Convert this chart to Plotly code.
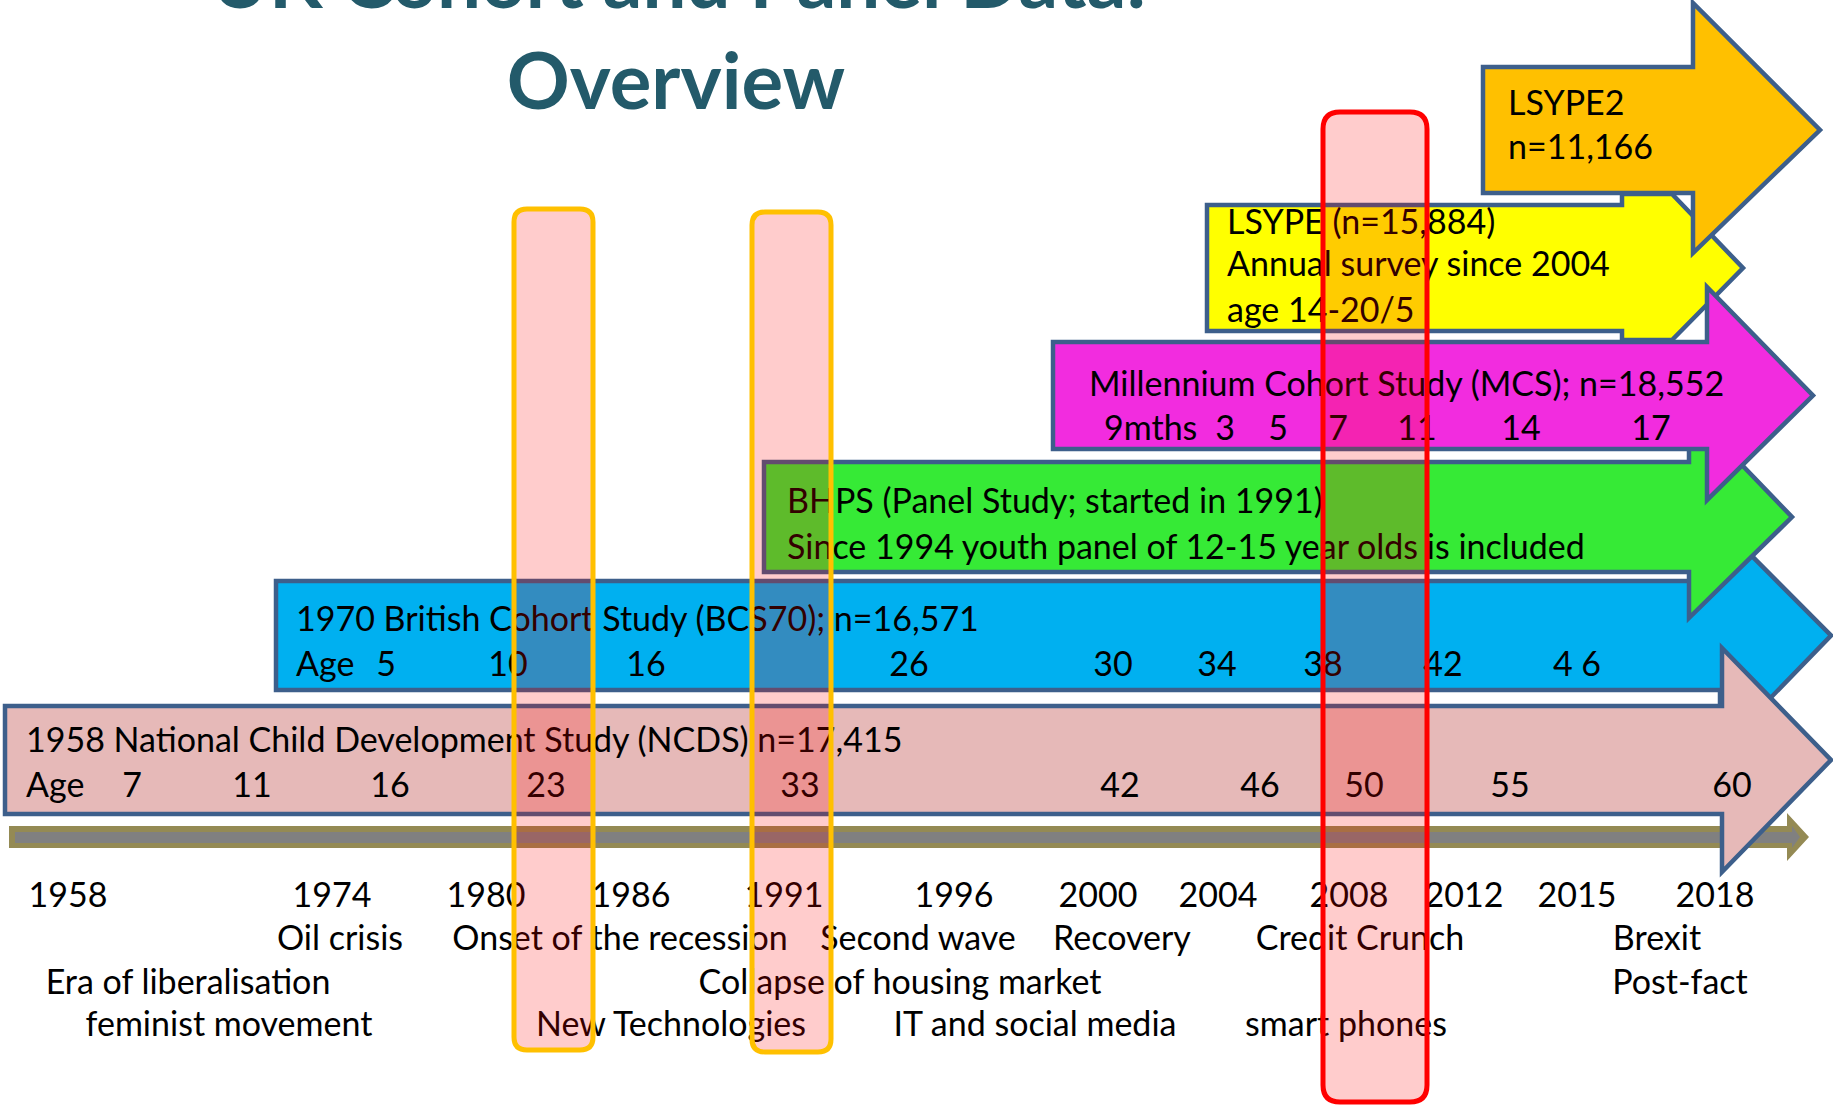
import plotly.graph_objects as go

# ---------------- data ----------------
title_line1 = "UK Cohort and Panel Data:"
title_line2 = "Overview"

ncds_title = "1958 National Child Development Study (NCDS) n=17,415"
ncds_ages = ["7", "11", "16", "23", "33", "42", "46", "50", "55", "60"]

bcs_title = "1970 British Cohort Study (BCS70); n=16,571"
bcs_ages = ["5", "10", "16", "26", "30", "34", "38", "42", "4 6"]

bhps_lines = ["BHPS (Panel Study; started in 1991)",
              "Since 1994 youth panel of 12-15 year olds is included"]

mcs_title = "Millennium Cohort Study (MCS); n=18,552"
mcs_ages = ["9mths", "3", "5", "7", "11", "14", "17"]

lsype_lines = ["LSYPE (n=15,884)", "Annual survey since 2004", "age 14-20/5"]
lsype2_lines = ["LSYPE2", "n=11,166"]

years = ["1958", "1974", "1980", "1986", "1991", "1996", "2000", "2004",
         "2008", "2012", "2015", "2018"]

events_row1 = ["Oil crisis", "Onset of the recession", "Second wave", "Recovery",
               "Credit Crunch", "Brexit"]
events_row2 = ["Era of liberalisation", "Collapse of housing market", "Post-fact"]
events_row3 = ["feminist movement", "New Technologies", "IT and social media",
               "smart phones"]

# ---------------- layout (pixel positions, sizes, styles) ----------------
W, H = 1833, 1106
FONT = "Lato, Open Sans, sans-serif"
FS = 34
BORDER = "#3D5F8B"
TITLE_COLOR = "#235A6A"
DY = 4  # vertical text nudge

ncds_age_x = [132, 252, 390, 546, 800, 1120, 1260, 1364, 1510, 1732]
bcs_age_x = [386, 508, 646, 909, 1113, 1217, 1323, 1443, 1577]
mcs_age_x = [1151, 1225, 1278, 1338, 1417, 1521, 1651]
year_x = [68, 332, 486, 631, 784, 954, 1098, 1218, 1349, 1464, 1577, 1715]
row1_x = [340, 620, 918, 1122, 1360, 1657]
row2_x = [188, 900, 1680]
row3_x = [229, 671, 1035, 1346]

# arrows: (left, top, bottom, head_x, head_top, head_bottom, tip_x, flat, fill)
arrows = [
    (276, 581, 690, 1720, 524, 750, 1831, 0, "#00B0F0"),   # BCS70
    (5, 706, 814, 1722, 648, 872, 1831, 0, "#E6B9B8"),     # NCDS
    (764, 462, 572, 1689, 410, 618, 1792, 0, "#36EA36"),   # BHPS
    (1207, 205, 331, 1622, 194, 340, 1743, 50, "#FFFF00"), # LSYPE
    (1053, 342, 449, 1707, 287, 500, 1813, 0, "#F22CDF"),  # MCS
    (1483, 67, 193, 1693, 3, 253, 1820, 0, "#FFC000"),     # LSYPE2
]

# highlight boxes: (x0, y0, x1, y1, radius, line colour)
highlights = [
    (514, 209, 593, 1050, 13, "#FFC000"),
    (752, 212, 831, 1052, 13, "#FFC000"),
    (1323, 112, 1427, 1102, 17, "#FF0000"),
]


def arrow_path(L, T, B, hx, hT, hB, tip, flat):
    cy = (T + B) / 2
    return (f"M{L},{T} L{hx},{T} L{hx},{hT} L{hx + flat},{hT} L{tip},{cy} "
            f"L{hx + flat},{hB} L{hx},{hB} L{hx},{B} L{L},{B} Z")


def rrect(x0, y0, x1, y1, r):
    return (f"M{x0 + r},{y0} L{x1 - r},{y0} Q{x1},{y0} {x1},{y0 + r} "
            f"L{x1},{y1 - r} Q{x1},{y1} {x1 - r},{y1} L{x0 + r},{y1} "
            f"Q{x0},{y1} {x0},{y1 - r} L{x0},{y0 + r} Q{x0},{y0} {x0 + r},{y0} Z")


shapes = []
# timeline arrow (olive outline + grey core)
shapes.append(dict(type="path", layer="below", line=dict(width=0),
                   fillcolor="#948A54",
                   path="M9,826 L1787,826 L1787,813 L1809,837 L1787,861 L1787,848 L9,848 Z"))
shapes.append(dict(type="path", layer="below", line=dict(width=0),
                   fillcolor="#808080",
                   path="M15,832 L1792,832 L1792,826 L1800,837 L1792,848 L1792,843 L15,843 Z"))

for (L, T, B, hx, hT, hB, tip, flat, col) in arrows:
    shapes.append(dict(type="path", layer="below", fillcolor=col,
                       line=dict(color=BORDER, width=4.5),
                       path=arrow_path(L, T, B, hx, hT, hB, tip, flat)))

for (x0, y0, x1, y1, r, col) in highlights:
    shapes.append(dict(type="path", layer="above", fillcolor="rgba(255,0,0,0.2)",
                       line=dict(color=col, width=5),
                       path=rrect(x0, y0, x1, y1, r)))

fig = go.Figure()


def add_text(xs, ys, texts, pos, size=FS, color="black", dy=DY):
    fig.add_trace(go.Scatter(x=xs, y=[v + dy for v in ys], text=texts, mode="text",
                             textposition=pos, cliponaxis=False,
                             hoverinfo="skip", showlegend=False,
                             textfont=dict(family=FONT, size=size, color=color)))


# title: second line as text, first line (mostly above the page edge) as annotation
add_text([676], [89], [f"<b>{title_line2}</b>"],
         "middle center", size=78, color=TITLE_COLOR, dy=0)

# left-aligned study texts
left_x = [26, 26, 296, 296, 787, 787, 1089, 1104, 1227, 1227, 1227, 1508, 1508]
left_y = [739, 784, 618, 663, 500, 546, 383, 427, 221, 263, 309, 102, 146]
left_t = [ncds_title, "Age", bcs_title, "Age"] + bhps_lines + [mcs_title, mcs_ages[0]] \
    + lsype_lines + lsype2_lines
add_text(left_x, left_y, left_t, "middle right")

# ages
add_text(ncds_age_x, [784] * len(ncds_ages), ncds_ages, "middle center")
add_text(bcs_age_x, [663] * len(bcs_ages), bcs_ages, "middle center")
add_text(mcs_age_x[1:], [427] * (len(mcs_ages) - 1), mcs_ages[1:], "middle center")

# timeline years and events
add_text(year_x, [894] * len(years), years, "middle center")
add_text(row1_x, [937] * len(events_row1), events_row1, "middle center")
add_text(row2_x, [981] * len(events_row2), events_row2, "middle center")
add_text(row3_x, [1023] * len(events_row3), events_row3, "middle center")

fig.update_layout(
    width=W, height=H,
    margin=dict(l=0, r=0, t=0, b=0),
    paper_bgcolor="white", plot_bgcolor="white",
    xaxis=dict(range=[0, W], visible=False, fixedrange=True),
    yaxis=dict(range=[H, 0], visible=False, fixedrange=True),
    shapes=shapes,
    annotations=[dict(x=678 / W, y=1 + 22 / H, xref="paper", yref="paper",
                      showarrow=False, xanchor="center", yanchor="middle",
                      text=f"<b>{title_line1}</b>",
                      font=dict(family=FONT, size=78, color=TITLE_COLOR))],
)

fig.write_html("out.html", config={"displayModeBar": False},
               post_script="document.body.style.margin='0';"
                           "document.body.style.overflow='hidden';")
